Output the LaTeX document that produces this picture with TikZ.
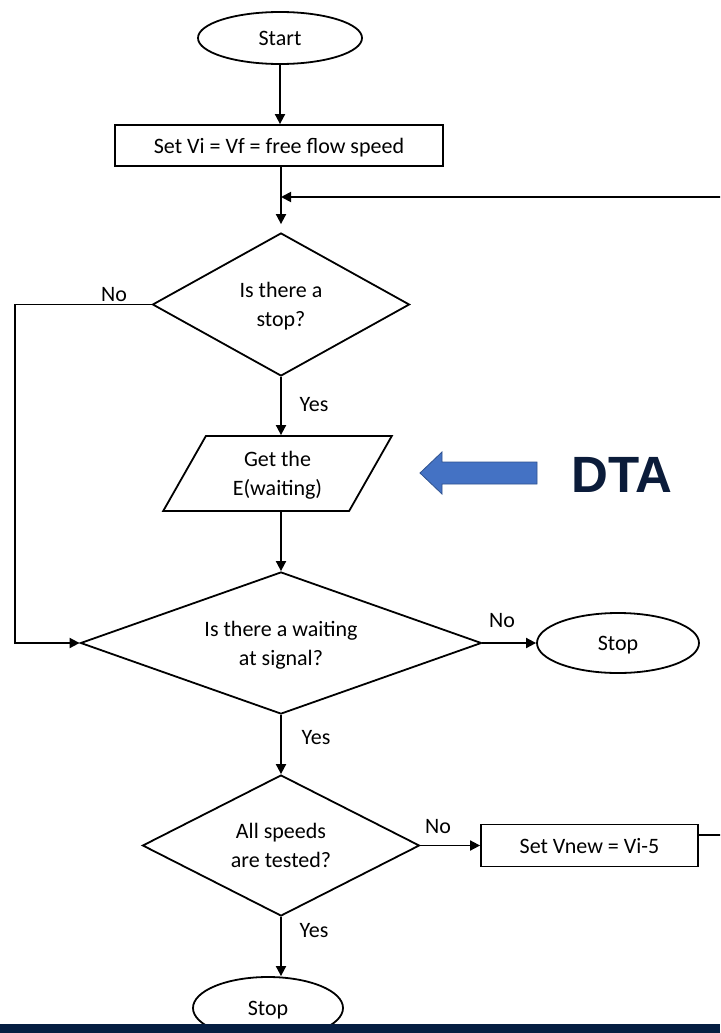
\documentclass[tikz,border=0pt]{standalone}
\usepackage{fontspec}
\setmainfont{Carlito}
\newfontfamily\dtafont{Liberation Sans}
\usetikzlibrary{shapes.geometric,arrows.meta}
\definecolor{navy}{HTML}{051E42}
\definecolor{dtatext}{HTML}{0B1C3A}
\definecolor{dtablue}{HTML}{4472C4}
\definecolor{dtaedge}{HTML}{2F528F}
\begin{document}
\begin{tikzpicture}[x=1pt,y=-1pt, line width=1.8pt,
  every node/.style={font=\fontsize{22}{29}\selectfont},
  term/.style={draw, ellipse, inner sep=0pt, text depth=0pt},
  proc/.style={draw, rectangle, inner sep=0pt, text depth=0pt},
  dec/.style={draw, diamond, inner sep=0pt, align=center, text depth=0pt},
  io/.style={draw, trapezium, trapezium left angle=59, trapezium right angle=121, trapezium stretches=true, inner sep=0pt, align=center, text depth=0pt},
  lbl/.style={inner sep=0pt},
  flow/.style={-{Triangle[length=10pt,width=10pt]}}]
\path[use as bounding box] (0,0) rectangle (720,1033);
\clip (0,0) rectangle (720,1033);
\fill[white] (0,0) rectangle (720,1033);

\node[term, minimum width=164pt, minimum height=52pt] (start) at (280,38) {Start};
\node[proc, minimum width=328pt, minimum height=41pt] (setv) at (279,145.5) {Set Vi = Vf = free flow speed};
\node[dec, aspect=1.8, minimum width=257pt, minimum height=143pt] (d1) at (281,304.5) {Is there a\\stop?};
\node[io, minimum width=229pt, minimum height=75pt] (getE) at (277.5,473.5) {Get the\\E(waiting)};
\node[dec, aspect=2.82, minimum width=401pt, minimum height=142pt] (d2) at (281,643) {Is there a waiting\\at signal?};
\node[term, minimum width=162pt, minimum height=60pt] (stop1) at (618,643) {Stop};
\node[dec, aspect=1.96, minimum width=277pt, minimum height=141pt] (d3) at (281,845.5) {All speeds\\are tested?};
\node[proc, minimum width=217pt, minimum height=42pt] (vnew) at (589.5,845.5) {Set Vnew = Vi-5};
\node[term, minimum width=150pt, minimum height=62pt] (stop2) at (268,1008) {Stop};

\coordinate (loopin) at (281,197);
\coordinate (ur) at (726,197);
\coordinate (lft) at (15,304.5);

\draw[flow] (start) -- (start |- setv.north);
\draw[flow, shorten >=8pt] (d1.north |- setv.south) -- (d1.north);
\draw[flow] ([yshift=10.5pt]vnew.east) -| (ur) -- (loopin);
\draw[flow] (d1.west) -- (lft) |- (d2.west);
\draw[flow] (d1.south) -- (d1.south |- getE.north);
\draw[flow] (d2.north |- getE.south) -- (d2.north);
\draw[flow] (d2.east) -- (stop1.west);
\draw[flow] (d2.south) -- (d3.north);
\draw[flow] (d3.east) -- (vnew.west);
\draw[flow] (d3.south) -- (d3.south |- stop2.north);

\node[lbl] (no1) at (114,295) {No};
\node[lbl] (yes1) at (314,405) {Yes};
\node[lbl] (no2) at (502,621) {No};
\node[lbl] (yes2) at (316,738) {Yes};
\node[lbl] (no3) at (438,827) {No};
\node[lbl] (yes3) at (314,931) {Yes};

\draw[line width=0.8pt, draw=dtaedge, fill=dtablue] (420,473) -- (442,452) -- (442,462) -- (537,462) -- (537,484) -- (442,484) -- (442,494) -- cycle;
\node[inner sep=0pt, text=dtatext, font=\dtafont\bfseries\fontsize{51}{51}\selectfont] (dta) at (622,475) {DTA};

\fill[navy] (0,1024) rectangle (720,1033);
\end{tikzpicture}
\end{document}
